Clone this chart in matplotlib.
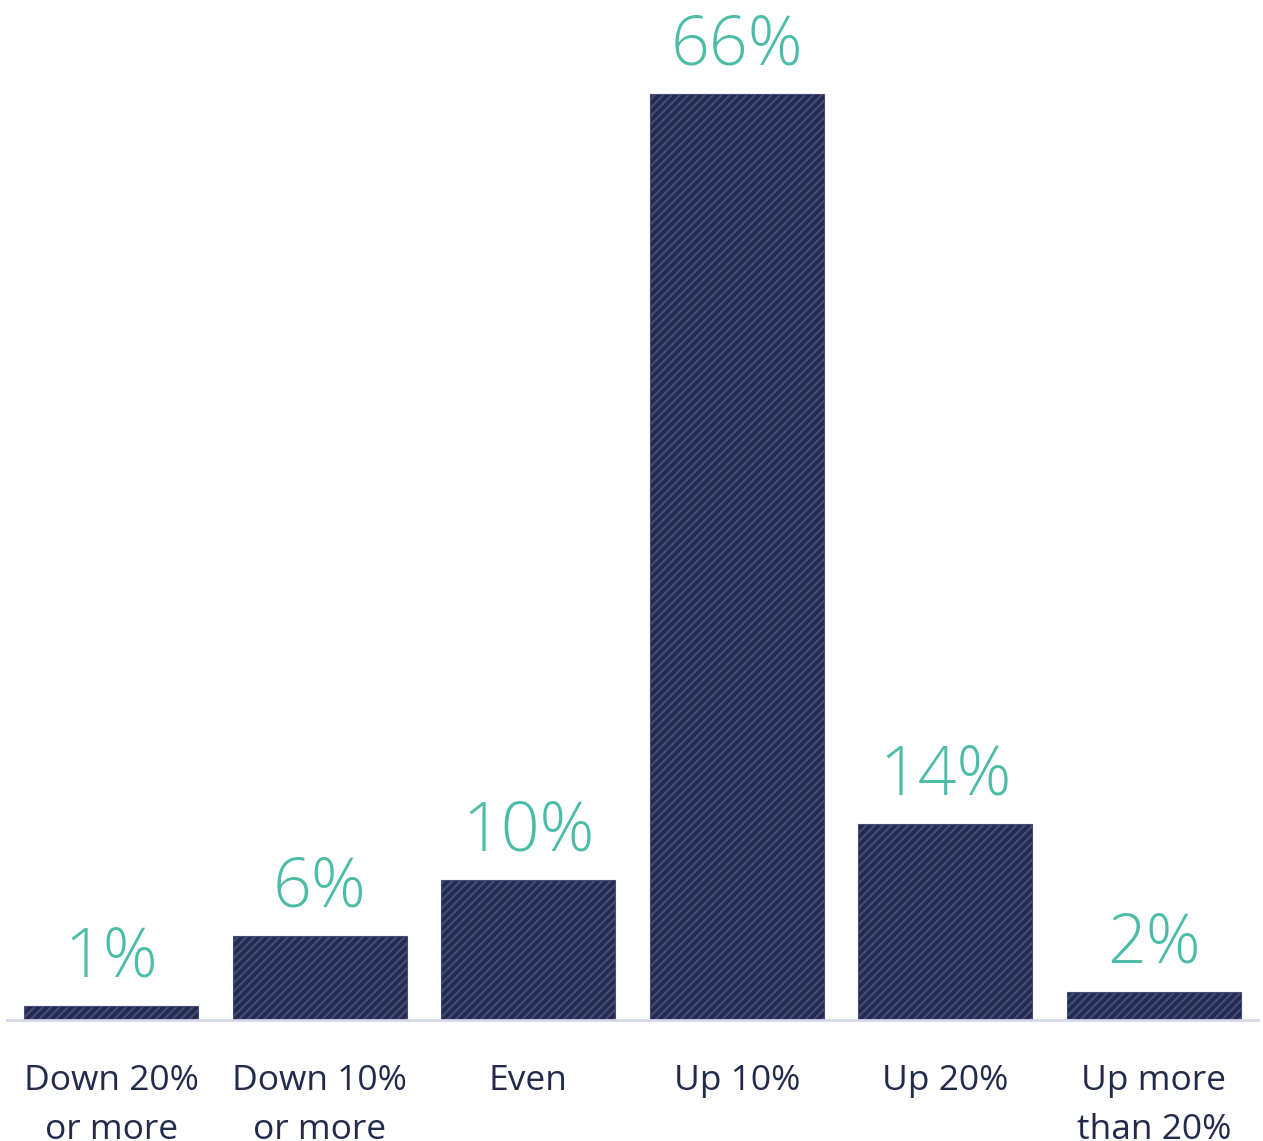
import matplotlib
matplotlib.use("Agg")
import matplotlib.pyplot as plt

categories = ["Down 20%\nor more", "Down 10%\nor more", "Even", "Up 10%", "Up 20%", "Up more\nthan 20%"]
values = [1, 6, 10, 66, 14, 2]
value_labels = ["1%", "6%", "10%", "66%", "14%", "2%"]

navy = "#222b4c"
stripe = "#434e78"
teal = "#4dbca6"

plt.rcParams["hatch.linewidth"] = 1.5

fig = plt.figure(figsize=(12.63, 11.41), dpi=100)
ax = fig.add_axes([0.0055, 0.106, 0.9905, 0.8607])

x = list(range(len(categories)))
bars = ax.bar(x, values, width=0.835, color=navy, edgecolor=stripe,
              linewidth=0.8, hatch="////")

for xi, v, lab in zip(x, values, value_labels):
    ax.text(xi, v + 2.1, lab, ha="center", va="baseline", fontsize=49,
            color=teal, family=["Open Sans", "DejaVu Sans"], fontweight="light")

ax.set_xlim(-0.5, 5.5)
ax.set_ylim(0, 70)
ax.set_yticks([])
ax.set_xticks(x)
ax.set_xticklabels(categories, fontsize=25.5, color=navy,
                   family=["Open Sans", "DejaVu Sans"], linespacing=1.55)
ax.tick_params(axis="x", length=0, pad=32)

for s in ["top", "right", "left"]:
    ax.spines[s].set_visible(False)
ax.spines["bottom"].set_color("#d3d8ec")
ax.spines["bottom"].set_linewidth(2)

fig.savefig("out.png", dpi=100)
